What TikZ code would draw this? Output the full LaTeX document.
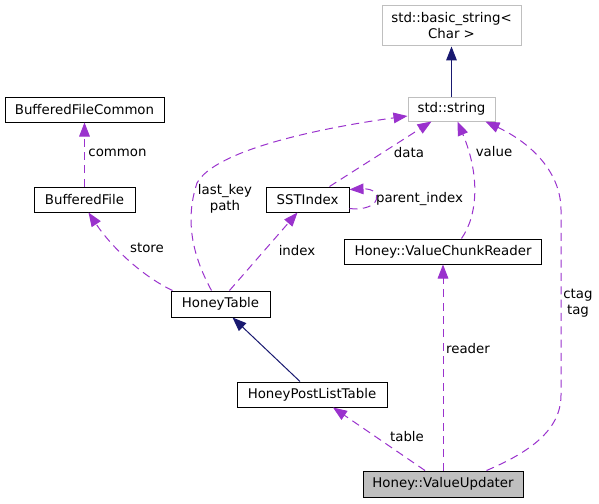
\documentclass[tikz,border=0pt]{standalone}
\usepackage{fontspec}
\setmainfont{DejaVu Sans}
\usetikzlibrary{arrows.meta,calc}
\definecolor{usecol}{HTML}{9A32CD}
\definecolor{inhcol}{HTML}{191970}
\definecolor{undoc}{HTML}{BFBFBF}
\begin{document}
\begin{tikzpicture}[x=0.75pt,y=-0.75pt,
  font=\fontsize{10}{12}\selectfont,
  cls/.style={draw=black,line width=0.75pt,fill=white,inner sep=0pt,align=center},
  ext/.style={cls,draw=undoc},
  cur/.style={cls,fill=undoc},
  use/.style={draw=usecol,line width=0.75pt,dash pattern=on 6pt off 4pt,
    -{Triangle[length=10.5pt,width=8pt,fill=usecol]}},
  inh/.style={draw=inhcol,line width=0.75pt,
    -{Triangle[length=10.5pt,width=8pt,fill=inhcol]}},
  lbl/.style={inner sep=0pt,align=center}]
\useasboundingbox (0,0) rectangle (599,503);
% nodes
\node[ext,minimum width=0.75pt*139,minimum height=0.75pt*40] (basic) at (451.5,26) {std::basic\_string<\\Char >};
\node[ext,minimum width=0.75pt*87,minimum height=0.75pt*24] (string) at (451.5,109) {std::string};
\node[cls,minimum width=0.75pt*159,minimum height=0.75pt*25] (bfc) at (84.5,109.5) {BufferedFileCommon};
\node[cls,minimum width=0.75pt*101,minimum height=0.75pt*25] (bf) at (84.5,199.5) {BufferedFile};
\node[cls,minimum width=0.75pt*83,minimum height=0.75pt*25] (sst) at (307.5,199.5) {SSTIndex};
\node[cls,minimum width=0.75pt*99,minimum height=0.75pt*26] (ht) at (220.5,304) {HoneyTable};
\node[cls,minimum width=0.75pt*197,minimum height=0.75pt*25] (vcr) at (443,251.5) {Honey::ValueChunkReader};
\node[cls,minimum width=0.75pt*150,minimum height=0.75pt*25] (hplt) at (312,394.5) {HoneyPostListTable};
\node[cur,minimum width=0.75pt*160,minimum height=0.75pt*26] (vu) at (443,484) {Honey::ValueUpdater};
% inheritance
\draw[inh] (string.north) -- (basic.south);
\draw[inh] ($(hplt.north)+(-12,0)$) -- ($(ht.south)+(12,0)$);
% usage
\draw[use] (bf.north) -- (bfc.south);
\node[lbl] (lcommon) at (117.5,152.5) {common};
\draw[use] ($(ht.north west)+(2,0)$) .. controls (140,275) and (110,245) .. ($(bf.south west)+(55,0)$);
\node[lbl] (lstore) at (147,248) {store};
\draw[use] ($(ht.north west)+(59,0)$) -- ($(sst.south west)+(32,0)$);
\node[lbl] (lindex) at (297,250.5) {index};
\draw[use] ($(ht.north west)+(41,0)$) .. controls (196,262) and (183,225) .. (197,183)
  .. controls (215,150) and (320,128) .. ($(string.west)+(0,7)$);
\node[lbl] (llast) at (225,199) {last\_key\\path};
\draw[use] ($(sst.north west)+(64,0)$) -- ($(string.south west)+(24,0)$);
\node[lbl] (ldata) at (409,153) {data};
\draw[use] ($(sst.south east)+(0,-4)$) .. controls (382,212) and (384,188) .. ($(sst.north east)+(0,3)$);
\node[lbl] (lparent) at (419.5,199) {parent\_index};
\draw[use] ($(vcr.north west)+(117.5,0)$) .. controls (478,215) and (480,175) .. ($(string.south west)+(50,0)$);
\node[lbl] (lvalue) at (494,152) {value};
\draw[use] ($(vu.north west)+(124,0)$) .. controls (530,452) and (561,430) .. (561,395)
  -- (561,210) .. controls (561,175) and (535,145) .. ($(string.south east)+(-10,0)$);
\node[lbl] (lctag) at (578,303) {ctag\\tag};
\draw[use] (vu.north) -- (vcr.south);
\node[lbl] (lreader) at (468,349) {reader};
\draw[use] ($(vu.north)+(-18,0)$) -- ($(hplt.south)+(21,0)$);
\node[lbl] (ltable) at (407,437) {table};
\end{tikzpicture}
\end{document}
